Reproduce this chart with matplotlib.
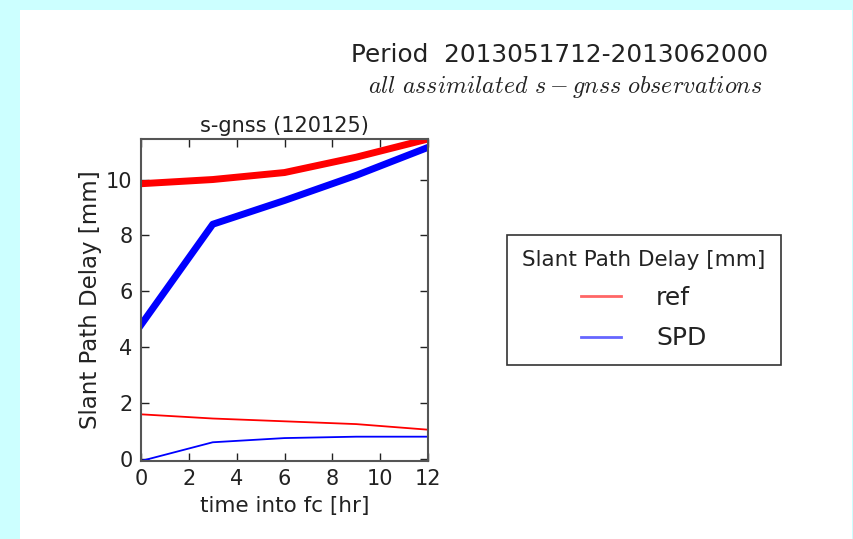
import numpy as np
import matplotlib
matplotlib.use("Agg")
import matplotlib.pyplot as plt
from matplotlib.patches import Rectangle

plt.rcParams['mathtext.fontset'] = 'cm'

# forecast hours
fc_hours = [0, 3, 6, 9, 12]

# thick lines (upper) and thin lines (lower)
ref_upper = [9.85, 10.0, 10.25, 10.8, 11.45]
spd_upper = [4.8, 8.4, 9.25, 10.15, 11.15]
ref_lower = [1.6, 1.45, 1.35, 1.25, 1.05]
spd_lower = [-0.07, 0.6, 0.75, 0.8, 0.8]

x_ticks = [0, 2, 4, 6, 8, 10, 12]
y_ticks = [0, 2, 4, 6, 8, 10]

fig = plt.figure(figsize=(8.54, 5.39), dpi=100, facecolor='#ccffff')
# white page inside the cyan frame
fig.patches.append(Rectangle((20 / 854, 0), 832 / 854, 529 / 539, transform=fig.transFigure,
                             facecolor='white', edgecolor='none', zorder=-10))

ax = fig.add_axes([141 / 854, 78 / 539, 287 / 854, 322 / 539])
ax.plot(fc_hours, ref_upper, color='red', linewidth=5)
ax.plot(fc_hours, spd_upper, color='blue', linewidth=5)
ax.plot(fc_hours, ref_lower, color='red', linewidth=1.3)
ax.plot(fc_hours, spd_lower, color='blue', linewidth=1.3)

allv = ref_upper + spd_upper + ref_lower + spd_lower
ax.set_xlim(0, 12)
ax.set_ylim(min(allv), max(allv))
ax.set_xticks(x_ticks)
ax.set_yticks(y_ticks)
ax.tick_params(direction='in', top=True, right=True, length=6, width=1,
               labelsize=15, colors='#222222', pad=6)
for s in ax.spines.values():
    s.set_color('#555555')
    s.set_linewidth(1.5)

ax.set_title('s-gnss (120125)', fontsize=15, color='#222222', pad=5)
ax.set_xlabel('time into fc [hr]', fontsize=15.5, color='#222222', labelpad=5)
ax.set_ylabel('Slant Path Delay [mm]', fontsize=16.5, color='#222222', labelpad=3)

fig.text(0.9, 0.898, 'Period  2013051712-2013062000', ha='right', va='center',
         fontsize=17.8, color='#222222')
fig.text(0.893, 0.838, r'$all\ assimilated\ s-gnss\ observations$', ha='right', va='center',
         fontsize=17.3, color='#222222')

h1, = ax.plot([], [], color='red', alpha=0.6, linewidth=2)
h2, = ax.plot([], [], color='blue', alpha=0.6, linewidth=2)
leg = fig.legend([h1, h2], ['ref', 'SPD'], title='Slant Path Delay [mm]', loc='center',
                 bbox_to_anchor=(0.754, 0.443), fontsize=18, title_fontsize=15.5,
                 fancybox=False, framealpha=1, edgecolor='#333333', handlelength=1.6,
                 handletextpad=1.4, borderpad=0.6, labelspacing=0.65)
leg.get_frame().set_linewidth(1.2)
leg.get_title().set_color('#222222')
for t in leg.get_texts():
    t.set_color('#222222')

fig.savefig('out.png', dpi=100, facecolor=fig.get_facecolor())
